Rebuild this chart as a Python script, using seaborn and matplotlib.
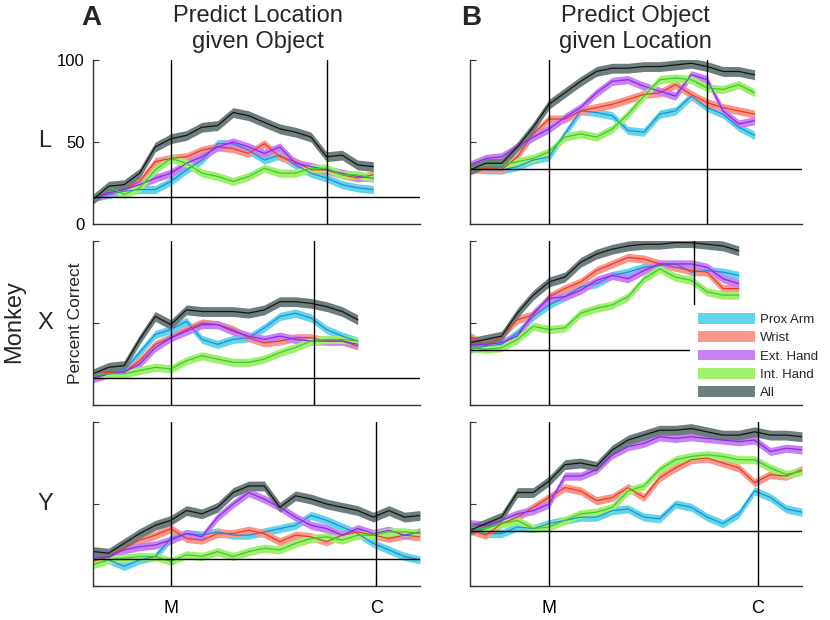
import numpy as np
import seaborn as sns
import matplotlib.pyplot as plt
from matplotlib.patches import Patch

# time grids (ms, relative to movement onset M)
T_R1 = np.arange(-250, 651, 50)
T_R2 = np.arange(-250, 601, 50)
T_R3 = np.arange(-250, 801, 50)

# C (contact) time per monkey
C_TIME = {"L": 500, "X": 460, "Y": 660}
CHANCE_LOC = 16.7
CHANCE_OBJ = 33.3

GROUPS = ["Prox Arm", "Wrist", "Ext. Hand", "Int. Hand", "All"]
LINE_COLORS = ["#1f8ce0", "#e8401e", "#8c2ae6", "#3cc83c", "#141414"]
BAND_COLORS = ["#61d6e8", "#fa968c", "#c882f5", "#a0f06e", "#6e7d7d"]
SEM = [2.5, 2.5, 2.5, 2.5, 3.0]

# Monkey L, predict location given object
L_loc_prox = [16, 18, 20, 21, 21, 26, 33, 39, 49, 49, 45, 39, 42, 36, 31, 28, 24, 22, 21]
L_loc_wrist = [16, 19, 21, 26, 38, 40, 41, 45, 47, 46, 43, 49, 41, 38, 33, 33, 30, 28, 30]
L_loc_ext = [16, 19, 21, 24, 28, 31, 37, 41, 47, 50, 47, 43, 47, 37, 35, 33, 31, 29, 28]
L_loc_int = [16, 23, 18, 22, 33, 40, 37, 31, 29, 26, 29, 34, 31, 31, 34, 34, 30, 30, 28]
L_loc_all = [15, 23, 24, 31, 47, 52, 54, 59, 60, 68, 66, 62, 58, 56, 53, 41, 42, 36, 35]

# Monkey L, predict object given location
L_obj_prox = [34, 33, 33, 35, 39, 41, 55, 69, 68, 66, 57, 56, 67, 69, 78, 71, 67, 59, 54]
L_obj_wrist = [33, 34, 33, 41, 55, 64, 64, 69, 71, 73, 76, 79, 80, 85, 79, 74, 71, 69, 67]
L_obj_ext = [36, 40, 41, 47, 53, 58, 65, 71, 80, 87, 88, 84, 81, 78, 91, 88, 69, 61, 63]
L_obj_int = [34, 36, 36, 38, 40, 44, 53, 55, 53, 58, 67, 78, 88, 89, 88, 83, 82, 85, 80]
L_obj_all = [33, 37, 37, 47, 59, 73, 80, 87, 93, 95, 95, 96, 96, 97, 98, 96, 93, 93, 91]

# Monkey X
X_loc_prox = [19, 20, 21, 32, 43, 46, 51, 40, 37, 40, 41, 47, 54, 56, 53, 46, 42, 39]
X_loc_wrist = [19, 20, 20, 27, 37, 41, 46, 50, 49, 46, 41, 38, 39, 41, 41, 39, 39, 36]
X_loc_ext = [16, 19, 20, 25, 35, 41, 45, 49, 49, 45, 42, 40, 42, 40, 39, 39, 39, 37]
X_loc_int = [19, 19, 19, 21, 23, 22, 27, 30, 28, 26, 26, 28, 32, 35, 39, 40, 40, 39]
X_loc_all = [19, 23, 24, 40, 54, 49, 58, 57, 57, 57, 56, 58, 63, 63, 62, 60, 57, 52]

X_obj_prox = [34, 36, 37, 44, 54, 61, 66, 72, 74, 79, 81, 84, 85, 86, 81, 82, 81, 79]
X_obj_wrist = [42, 36, 42, 52, 55, 66, 71, 75, 82, 86, 90, 89, 86, 84, 82, 81, 71, 71]
X_obj_ext = [37, 37, 38, 42, 56, 65, 66, 70, 76, 79, 77, 82, 86, 86, 86, 84, 77, 74]
X_obj_int = [35, 34, 35, 40, 48, 46, 47, 56, 59, 61, 66, 77, 83, 78, 76, 69, 67, 67]
X_obj_all = [38, 40, 42, 56, 67, 75, 78, 87, 92, 95, 97, 98, 98, 99, 99, 98, 97, 94]

# Monkey Y
Y_loc_prox = [18, 16, 12, 16, 18, 29, 32, 31, 33, 31, 31, 33, 35, 37, 43, 40, 36, 32, 26, 22, 18, 16]
Y_loc_wrist = [15, 18, 23, 28, 31, 35, 29, 28, 32, 32, 34, 32, 27, 31, 30, 27, 31, 33, 31, 29, 31, 30]
Y_loc_ext = [17, 18, 22, 24, 25, 28, 32, 30, 42, 50, 57, 53, 48, 42, 37, 35, 31, 35, 32, 34, 31, 33]
Y_loc_int = [13, 16, 17, 18, 18, 15, 19, 18, 21, 18, 21, 23, 22, 26, 29, 30, 28, 31, 31, 33, 33, 32]
Y_loc_all = [21, 20, 26, 32, 37, 40, 46, 44, 48, 57, 61, 61, 48, 55, 53, 50, 48, 46, 42, 46, 42, 43]

Y_obj_prox = [35, 32, 32, 36, 35, 38, 40, 42, 42, 46, 47, 42, 41, 50, 48, 42, 38, 44, 58, 54, 47, 45]
Y_obj_wrist = [34, 31, 38, 42, 48, 54, 60, 58, 52, 54, 60, 54, 66, 72, 77, 78, 75, 72, 63, 68, 67, 71]
Y_obj_ext = [38, 37, 40, 44, 46, 50, 67, 67, 71, 80, 85, 87, 91, 90, 91, 90, 89, 88, 89, 82, 84, 83]
Y_obj_int = [36, 35, 38, 40, 35, 36, 40, 44, 45, 48, 58, 61, 71, 77, 79, 80, 79, 77, 77, 72, 68, 70]
Y_obj_all = [34, 38, 42, 57, 57, 64, 74, 75, 73, 83, 89, 92, 95, 95, 96, 94, 92, 92, 94, 92, 92, 91]

panels = [
    ("L", 0, T_R1, [L_loc_prox, L_loc_wrist, L_loc_ext, L_loc_int, L_loc_all], CHANCE_LOC),
    ("L", 1, T_R1, [L_obj_prox, L_obj_wrist, L_obj_ext, L_obj_int, L_obj_all], CHANCE_OBJ),
    ("X", 0, T_R2, [X_loc_prox, X_loc_wrist, X_loc_ext, X_loc_int, X_loc_all], CHANCE_LOC),
    ("X", 1, T_R2, [X_obj_prox, X_obj_wrist, X_obj_ext, X_obj_int, X_obj_all], CHANCE_OBJ),
    ("Y", 0, T_R3, [Y_loc_prox, Y_loc_wrist, Y_loc_ext, Y_loc_int, Y_loc_all], CHANCE_LOC),
    ("Y", 1, T_R3, [Y_obj_prox, Y_obj_wrist, Y_obj_ext, Y_obj_int, Y_obj_all], CHANCE_OBJ),
]

sns.set_theme(style="ticks")
plt.rcParams['font.family'] = ['Liberation Sans', 'DejaVu Sans']

W, H = 830, 620
fig = plt.figure(figsize=(8.3, 6.2), dpi=100)

col_left = [93, 470]
col_width = [327, 332]
row_top = {"L": 60, "X": 241, "Y": 422}
row_h = 164

axes = {}
for monkey, col, t, series, chance in panels:
    x0 = col_left[col] / W
    y0 = 1 - (row_top[monkey] + row_h) / H
    ax = fig.add_axes([x0, y0, col_width[col] / W, row_h / H])
    axes[(monkey, col)] = ax

    for vals, lc, bc, sem in zip(series, LINE_COLORS, BAND_COLORS, SEM):
        v = np.array(vals, dtype=float)
        ax.fill_between(t, v - sem, v + sem, color=bc, lw=0, zorder=1)
        sns.lineplot(x=t, y=v, color=lc, lw=0.9, ax=ax, legend=False, zorder=1.5)

    ax.axhline(chance, color="black", lw=1, zorder=2)
    ax.axvline(0, color="black", lw=1, zorder=2)
    ax.axvline(C_TIME[monkey], color="black", lw=1, zorder=2)

    ax.set_xlim(-250, 800)
    ax.set_ylim(0, 100)
    ax.set_xticks([0, C_TIME[monkey]])
    ax.set_yticks([0, 50, 100])
    ax.tick_params(direction="in", length=4, width=0.8, color="#333333",
                   labelsize=12, colors="black")
    ax.tick_params(axis="x", pad=10, labelsize=13)
    ax.tick_params(axis="y", pad=6)
    if monkey == "Y":
        ax.set_xticklabels(["M", "C"])
    else:
        ax.set_xticklabels([])
    if monkey == "L" and col == 0:
        ax.set_yticklabels(["0", "50", "100"])
    else:
        ax.set_yticklabels([])
    ax.set_xlabel("")
    ax.set_ylabel("")
    for s in ["top", "right"]:
        ax.spines[s].set_visible(False)
    for s in ["left", "bottom"]:
        ax.spines[s].set_color("#333333")
        ax.spines[s].set_linewidth(1)

# legend in the X / object panel
handles = [Patch(facecolor=bc, edgecolor="none") for bc in BAND_COLORS]
leg = axes[("X", 1)].legend(handles, GROUPS, loc="upper left",
                            bbox_to_anchor=(690 / W, 1 - 305 / H),
                            bbox_transform=fig.transFigure,
                            frameon=True, fancybox=False, framealpha=1,
                            facecolor="white", edgecolor="none",
                            fontsize=9.5, handlelength=4.3, handleheight=0.9,
                            handletextpad=0.4, labelspacing=0.4,
                            borderpad=0.6, borderaxespad=0)
leg.set_zorder(2.4)

# panel letters and titles
fig.text(91 / W, 1 - 18 / H, "A", fontsize=20, fontweight="bold", ha="center", va="center")
fig.text(471 / W, 1 - 18 / H, "B", fontsize=20, fontweight="bold", ha="center", va="center")
fig.text(258 / W, 1 - 22 / H, "Predict Location", fontsize=17, ha="center", va="baseline")
fig.text(258 / W, 1 - 48 / H, "given Object", fontsize=17, ha="center", va="baseline")
fig.text(635 / W, 1 - 22 / H, "Predict Object", fontsize=17, ha="center", va="baseline")
fig.text(635 / W, 1 - 48 / H, "given Location", fontsize=17, ha="center", va="baseline")

# row labels
for name, yc in [("L", 141), ("X", 323), ("Y", 504)]:
    fig.text(45 / W, 1 - yc / H, name, fontsize=17, ha="center", va="center")
fig.text(14 / W, 1 - 322 / H, "Monkey", fontsize=17, rotation=90, ha="center", va="center")
fig.text(75 / W, 1 - 323 / H, "Percent Correct", fontsize=12.5, rotation=90, ha="center", va="center")

fig.savefig("out.png", dpi=100, facecolor="white")
